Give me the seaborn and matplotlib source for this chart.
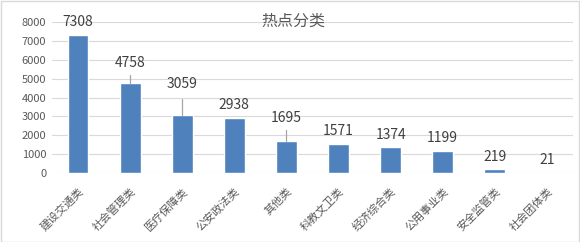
import matplotlib
matplotlib.use("Agg")
import matplotlib.pyplot as plt
import seaborn as sns
import pandas as pd
from matplotlib.patches import Rectangle

categories = ["建设交通类", "社会管理类", "医疗保障类", "公安政法类", "其他类",
              "科教文卫类", "经济综合类", "公用事业类", "安全监管类", "社会团体类"]
counts = [7308, 4758, 3059, 2938, 1695, 1571, 1374, 1199, 219, 21]
y_ticks = [0, 1000, 2000, 3000, 4000, 5000, 6000, 7000, 8000]
title = "热点分类"

sns.set_theme(style="white")
plt.rcParams['font.family'] = ['Noto Sans CJK SC', 'DejaVu Sans']

df = pd.DataFrame({"cat": categories, "val": counts})

fig = plt.figure(figsize=(5.8, 2.42), dpi=100)
ax = fig.add_axes([52/580, 1 - 173.3/242, (573 - 52)/580, (173.3 - 21.7)/242])

sns.barplot(data=df, x="cat", y="val", color="#4F81BD", saturation=1,
            width=0.4, ax=ax, zorder=3)

ax.set_ylim(0, 8000)
ax.set_xlim(-0.5, len(categories) - 0.5)
ax.set_yticks(y_ticks)
ax.set_yticklabels([str(t) for t in y_ticks], fontsize=8, color="#595959")
ax.yaxis.grid(True, color="#D9D9D9", linewidth=0.8, zorder=0)
ax.set_axisbelow(True)
for s in ax.spines.values():
    s.set_visible(False)
ax.tick_params(axis="both", length=0, pad=4)
ax.set_xlabel("")
ax.set_ylabel("")

ax.set_xticks(range(len(categories)))
ax.set_xticklabels(categories, rotation=45, ha="right", rotation_mode="anchor",
                   fontsize=8, color="#595959")
ax.tick_params(axis="x", pad=9)

# data labels; a few are displaced upward with leader lines
displaced = {1: 5800, 2: 4700, 4: 2900}
leader_top = {1: 5200, 2: 3900, 4: 2280}
for i, v in enumerate(counts):
    if i in displaced:
        ax.plot([i, i], [v, leader_top[i]], color="#A6A6A6", lw=0.9, zorder=4)
        ax.text(i, displaced[i], str(v), ha="center", va="center",
                fontsize=10, color="#404040")
    else:
        ax.annotate(str(v), (i, v), xytext=(0, 9), textcoords="offset points",
                    ha="center", va="center", fontsize=10, color="#404040")

fig.text(293/580, 1 - 21/242, title, ha="center", va="center",
         fontsize=11.5, color="#595959")

fig.patches.append(Rectangle((0.5/580, 0.5/242), 1 - 1.5/580, 1 - 1.5/242,
                             transform=fig.transFigure, fill=False,
                             edgecolor="#D9D9D9", linewidth=1))

fig.savefig("out.png", dpi=100)
